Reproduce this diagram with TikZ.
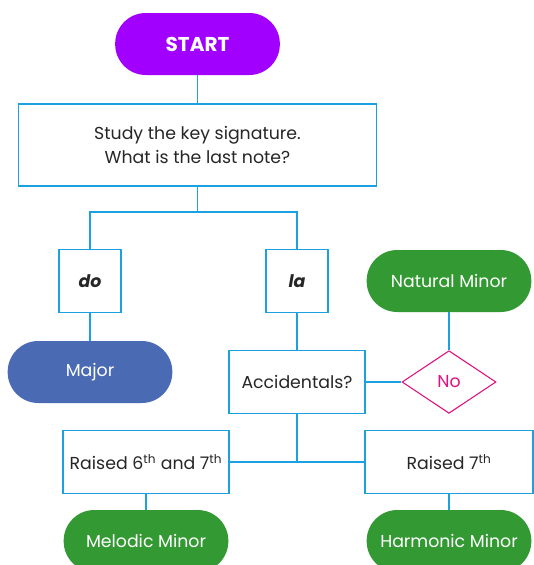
\documentclass[tikz,border=0pt]{standalone}
\usepackage{fontspec}
\setmainfont{Poppins}
\usetikzlibrary{shapes.geometric}
\definecolor{startpurple}{HTML}{A100FF}
\definecolor{majorblue}{HTML}{4A6BB4}
\definecolor{minorgreen}{HTML}{339933}
\definecolor{linecyan}{HTML}{1BA1E2}
\definecolor{nopink}{HTML}{E2107E}
\begin{document}
\begin{tikzpicture}[
		x=0.75pt, y=-0.75pt,
		every node/.style={font=\fontsize{13}{17.5}\selectfont, align=center, inner sep=0pt},
		box/.style={draw=linecyan, line width=0.8pt, fill=white, text=black!85},
		pill/.style={rounded corners=23pt, text=white, minimum width=123.5pt, minimum height=46.5pt},
		link/.style={draw=linecyan, line width=0.8pt}
		]
		\useasboundingbox (0,0) rectangle (533,565);
		% top
		\node[pill, fill=startpurple, font=\fontsize{15}{17}\selectfont\bfseries] (start) at (197.5,44) {START};
		\node[box, minimum width=269pt, minimum height=61.5pt] (study) at (197.5,145) {Study the key signature.\\What is the last note?};
		% do / la
		\node[box, minimum width=46.5pt, minimum height=47pt, font=\fontsize{13}{15}\selectfont\bfseries\itshape] (do) at (90,281) {do};
		\node[box, minimum width=46.5pt, minimum height=47pt, font=\fontsize{13}{15}\selectfont\bfseries\itshape] (la) at (297,281) {la};
		\node[pill, fill=majorblue] (major) at (90,372) {Major};
		\node[pill, fill=minorgreen] (natmin) at (449,281) {Natural Minor};
		% accidentals
		\node[box, minimum width=102pt, minimum height=47pt] (accid) at (297,382) {Accidentals?};
		\node[diamond, draw=nopink, line width=0.8pt, text=nopink, minimum width=70.5pt, minimum height=47pt] (no) at (449,382) {No};
		\node[box, minimum width=124.5pt, minimum height=47pt] (raisedsix) at (146,462) {Raised 6\textsuperscript{th} and 7\textsuperscript{th}};
		\node[box, minimum width=126pt, minimum height=47pt] (raisedsev) at (449,462) {Raised 7\textsuperscript{th}};
		\node[pill, fill=minorgreen] (melodic) at (146,541) {Melodic Minor};
		\node[pill, fill=minorgreen] (harmonic) at (449,541) {Harmonic Minor};
		% connectors
		\coordinate (split) at (197.5,212);
		\draw[link] (start) -- (study);
		\draw[link] (study) -- (split);
		\draw[link] (do.north) |- (split) -| (la.north);
		\draw[link] (do) -- (major);
		\draw[link] (la) -- (accid);
		\draw[link] (accid) -- (no);
		\draw[link] (natmin) -- (no);
		\coordinate (join) at (297,462);
		\draw[link] (accid) -- (join);
		\draw[link] (raisedsix) -- (raisedsev);
		\draw[link] (raisedsix) -- (melodic);
		\draw[link] (raisedsev) -- (harmonic);
	\end{tikzpicture}
\end{document}
